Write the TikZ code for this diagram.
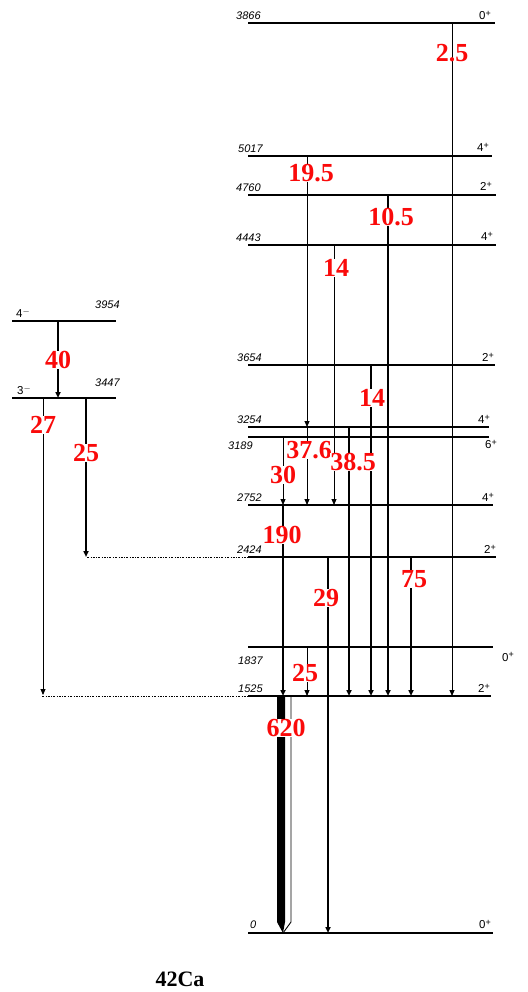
\documentclass[tikz,border=0pt]{standalone}
\usepackage{fontspec}
\setmainfont{Liberation Serif}
\newfontfamily\lvlfont{Liberation Sans}
\usetikzlibrary{arrows.meta}
\definecolor{intred}{RGB}{250,10,10}

\newcommand{\spn}[2]{#1\raisebox{3.5pt}{\fontsize{9}{9}\selectfont#2}}

\tikzset{
  lvl/.style={line width=1.1pt},
  dotl/.style={line width=0.8pt, dash pattern=on 2pt off 1.5pt on 0.6pt off 1.5pt},
  gthin/.style={line width=0.9pt, -{Triangle[length=6pt,width=5pt]}},
  gmid/.style={line width=1.6pt, -{Triangle[length=6pt,width=5pt]}},
  gthick/.style={line width=2.6pt, -{Triangle[length=6pt,width=5pt]}},
  inten/.style={text=intred, font=\fontsize{26}{26}\selectfont\bfseries, fill=white, inner sep=0.5pt},
  elab/.style={font=\lvlfont\itshape\fontsize{11}{11}\selectfont, inner sep=0pt},
  slab/.style={font=\lvlfont\fontsize{11.5}{11.5}\selectfont, inner sep=0pt}
}

\begin{document}
\begin{tikzpicture}[x=1pt,y=-1pt]
\useasboundingbox (0,0) rectangle (527,992);
% Niveis (lado direito)
\foreach \y/\xr in {23/495,156/492,195/496,245/496,365/495,427/489,437/489,557/496,647/493,696/491,933/493}
  \draw[lvl] (248,\y) -- (\xr,\y);
\draw[line width=2.4pt] (248,505) -- (493,505); % 2752
% Niveis (lado esquerdo)
\draw[lvl] (12,321) -- (116,321);
\draw[lvl] (12,398) -- (116,398);
% Linhas pontilhadas
\draw[dotl] (87,557) -- (248,557);
\draw[dotl] (42,696) -- (248,696);
% Energias
\node[elab, anchor=south west] (e3866) at (236,20) {3866};
\node[elab, anchor=south west] (e5017) at (238,153) {5017};
\node[elab, anchor=south west] (e4760) at (236,192) {4760};
\node[elab, anchor=south west] (e4443) at (236,242) {4443};
\node[elab, anchor=south west] (e3654) at (237,362) {3654};
\node[elab, anchor=south west] (e3254) at (237,424) {3254};
\node[elab, anchor=north west] (e3189) at (228,442) {3189};
\node[elab, anchor=south west] (e2752) at (237,502) {2752};
\node[elab, anchor=south west] (e2424) at (237,554) {2424};
\node[elab, anchor=north west] (e1837) at (238,657) {1837};
\node[elab, anchor=south west] (e1525) at (238,693) {1525};
\node[elab, anchor=south west] (e0) at (250,929) {0};
\node[elab, anchor=south west] (e3954) at (95,309) {3954};
\node[elab, anchor=south west] (e3447) at (95,387) {3447};
% Spins
\node[slab, anchor=south east] (s3866) at (491,20) {\spn{0}{+}};
\node[slab, anchor=south east] (s5017) at (489,152) {\spn{4}{+}};
\node[slab, anchor=south east] (s4760) at (492,191) {\spn{2}{+}};
\node[slab, anchor=south east] (s4443) at (493,241) {\spn{4}{+}};
\node[slab, anchor=south east] (s3654) at (494,362) {\spn{2}{+}};
\node[slab, anchor=south east] (s3254) at (490,424) {\spn{4}{+}};
\node[slab, anchor=north east] (s3189) at (497,440) {\spn{6}{+}};
\node[slab, anchor=south east] (s2752) at (494,502) {\spn{4}{+}};
\node[slab, anchor=south east] (s2424) at (496,554) {\spn{2}{+}};
\node[slab, anchor=west] (s1837) at (502,657) {\spn{0}{+}};
\node[slab, anchor=south east] (s1525) at (490,693) {\spn{2}{+}};
\node[slab, anchor=south east] (s0) at (491,929) {\spn{0}{+}};
\node[slab, anchor=south west] (s3954) at (16,318) {\spn{4}{$-$}};
\node[slab, anchor=south west] (s3447) at (17,395) {\spn{3}{$-$}};
% Transicoes (lado esquerdo)
\draw[gmid] (58,321) -- (58,398);
\draw[gthin] (43,398) -- (43,695);
\draw[gmid] (86,398) -- (86,557);
% Transicoes (lado direito)
\draw[gthin] (452,23) -- (452,696);
\draw[gthin] (307,156) -- (307,427);
\draw[gthick] (388,195) -- (388,696);
\draw[gthin] (334,245) -- (334,505);
\draw[gmid] (371,365) -- (371,696);
\draw[gthick] (349,427) -- (349,696);
\draw[gthin] (307,427) -- (307,505);
\draw[gthin] (283,437) -- (283,505);
\draw[gthick] (283,505) -- (283,696);
\draw[gmid] (328,557) -- (328,933);
\draw[gmid] (411,557) -- (411,696);
\draw[gthin] (307,647) -- (307,696);
% Seta larga 620
\fill (277,696) -- (277,922) -- (283,933) -- (285,922) -- (285,696) -- cycle;
\draw[line width=0.9pt] (291,696) -- (291,922) -- (283,933);
% Intensidades
\node[inten, fill=none] (i2p5) at (452,53) {2.5};
\node[inten] (i19p5) at (311,173) {19.5};
\node[inten] (i10p5) at (391,217) {10.5};
\node[inten] (i14a) at (336,268) {14};
\node[inten] (i14b) at (372,398) {14};
\node[inten] (i37p6) at (309,450) {37.6};
\node[inten] (i38p5) at (353,462) {38.5};
\node[inten] (i30) at (283,475) {30};
\node[inten] (i190) at (282,535) {190};
\node[inten] (i29) at (326,598) {29};
\node[inten] (i75) at (414,579) {75};
\node[inten] (i25b) at (305,673) {25};
\node[inten] (i620) at (286,728) {620};
\node[inten] (i40) at (58,360) {40};
\node[inten] (i27) at (43,425) {27};
\node[inten] (i25a) at (86,453) {25};
% Nucleo
\node[font=\fontsize{22}{22}\selectfont\bfseries] (nuc) at (180,979) {42Ca};
\end{tikzpicture}
\end{document}
